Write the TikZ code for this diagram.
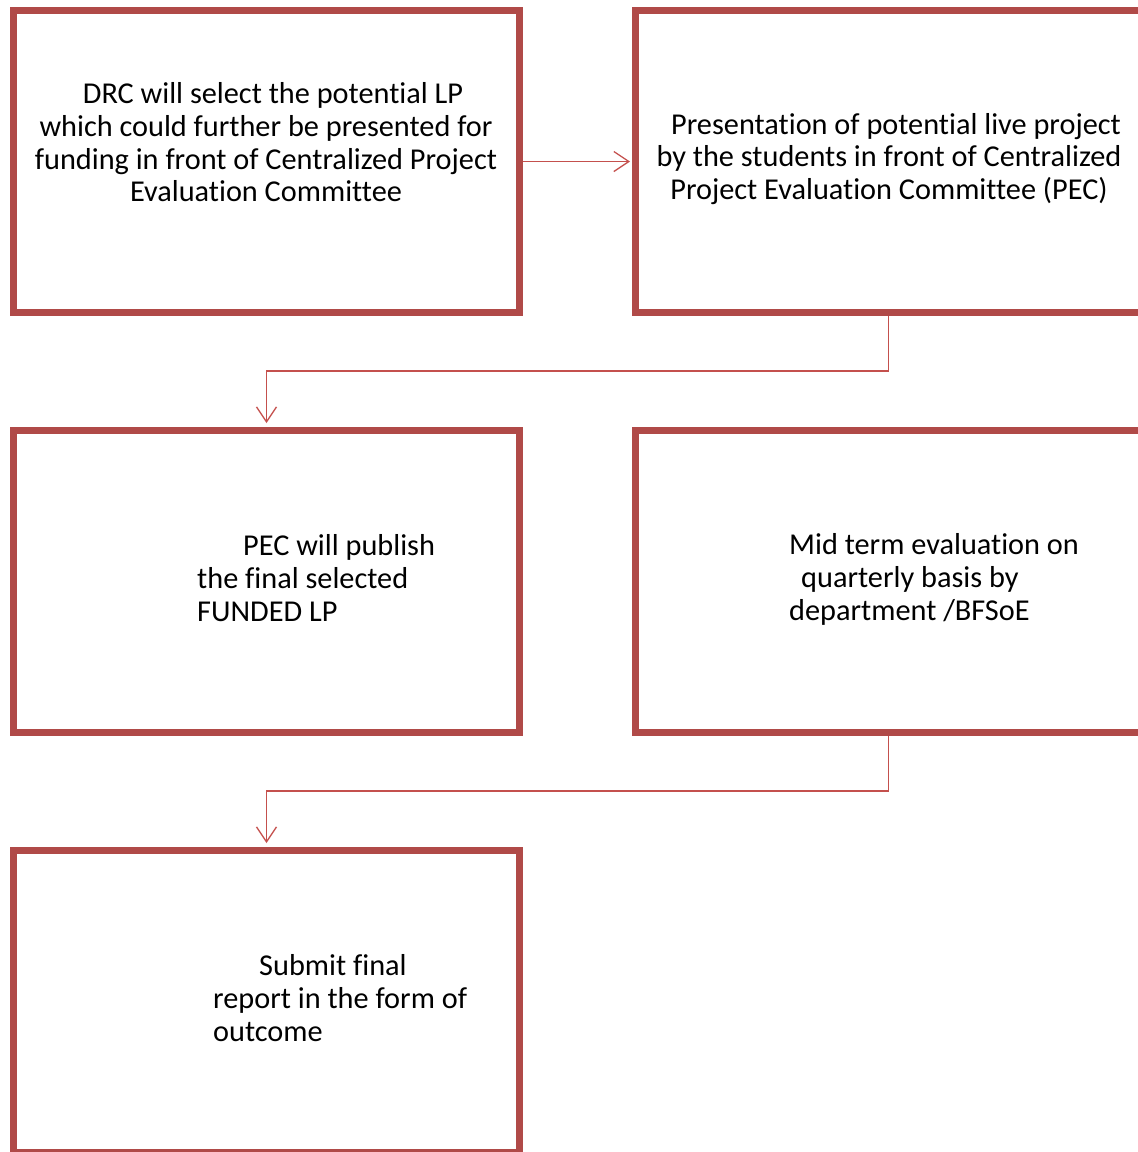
\documentclass[tikz,border=0pt]{standalone}
\usepackage{fontspec}
\setmainfont{Carlito}[Ligatures=NoCommon]
\usetikzlibrary{arrows.meta,shadows}
\definecolor{boxred}{RGB}{176,74,72}
\definecolor{linered}{RGB}{196,80,77}
\tikzset{
  stepbox/.style={draw=boxred, line width=7pt, fill=white, minimum width=506pt, minimum height=302pt, inner sep=0pt,
    drop shadow={opacity=0.18, shadow xshift=2.5pt, shadow yshift=-2.5pt}},
  txt/.style={font=\fontsize{30.3}{32.7}\selectfont, inner sep=0pt, text=black},
  conn/.style={draw=linered, line width=1.3pt, -{Straight Barb[length=15pt,width=20pt,line width=1.3pt]}, shorten >=2pt}
}
\begin{document}
\begin{tikzpicture}[x=1pt,y=-1pt]
\useasboundingbox (0,0) rectangle (1138,1152);
\clip (0,0) rectangle (1138,1152);
\node[stepbox] (b1) at (266.5,161.5) {};
\node[stepbox] (b2) at (888.5,161.5) {};
\node[stepbox] (b3) at (266.5,581.5) {};
\node[stepbox] (b4) at (888.5,581.5) {};
\node[stepbox] (b5) at (266.5,1001.5) {};
\node[txt, align=center] (t1) at (266,142.5) {\hspace*{14pt}DRC will select the potential LP\\which could further be presented for\\funding in front of Centralized Project\\Evaluation Committee};
\node[txt, align=center] (t2) at (889,159) {\hspace*{14pt}Presentation of potential live project\\by the students in front of Centralized\\Project Evaluation Committee (PEC)};
\node[txt, align=left, anchor=west] (t3) at (197,578) {\hspace*{46pt}PEC will publish\\the final selected\\FUNDED LP};
\node[txt, align=left, anchor=west] (t4) at (789,579.5) {Mid term evaluation on\\\hspace*{12pt}quarterly basis by\\department /BFSoE};
\node[txt, align=left, anchor=west] (t5) at (213,998) {\hspace*{46pt}Submit final\\report in the form of\\outcome};
\draw[conn] (b1.east) -- (b2.west);
\draw[conn, shorten >=4pt] (b2.south) -- ++(0,55) -| (b3.north);
\draw[conn, shorten >=4pt] (b4.south) -- ++(0,55) -| (b5.north);
\end{tikzpicture}
\end{document}
